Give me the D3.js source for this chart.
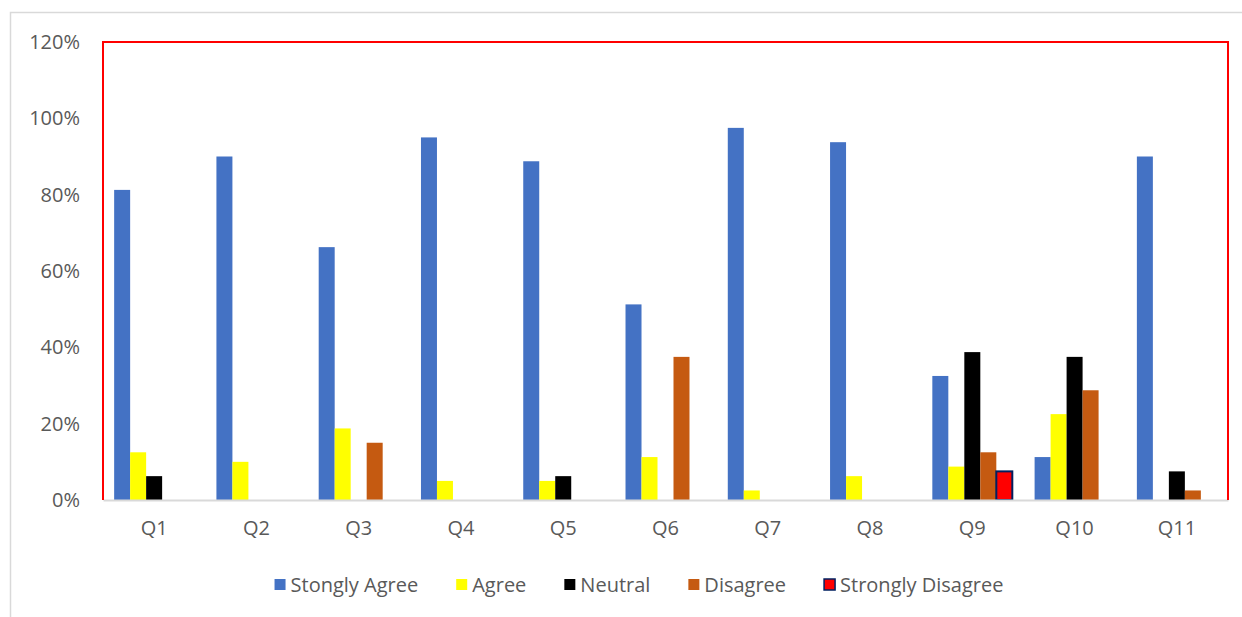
<!DOCTYPE html>
<html>
<head>
<meta charset="utf-8">
<script src="https://d3js.org/d3.v7.min.js"></script>
<style>
  body { margin: 0; background: #fff; }
  text { font-family: "Open Sans", sans-serif; fill: #595959; }
</style>
</head>
<body>
<div id="myChart"></div>
<script>
// data (percent)
let categories = ["Q1", "Q2", "Q3", "Q4", "Q5", "Q6", "Q7", "Q8", "Q9", "Q10", "Q11"];
let seriesNames = ["Stongly Agree", "Agree", "Neutral", "Disagree", "Strongly Disagree"];
let stronglyAgree    = [81.25, 90, 66.25, 95, 88.75, 51.25, 97.5, 93.75, 32.5, 11.25, 90];
let agree            = [12.5, 10, 18.75, 5, 5, 11.25, 2.5, 6.25, 8.75, 22.5, 0];
let neutral          = [6.25, 0, 0, 0, 6.25, 0, 0, 0, 38.75, 37.5, 7.5];
let disagree         = [0, 0, 15, 0, 0, 37.5, 0, 0, 12.5, 28.75, 2.5];
let stronglyDisagree = [0, 0, 0, 0, 0, 0, 0, 0, 7.5, 0, 0];
let yTicks = [0, 20, 40, 60, 80, 100, 120];

let seriesValues = [stronglyAgree, agree, neutral, disagree, stronglyDisagree];
let colors = ["#4472C4", "#FFFF00", "#000000", "#C55A11", "#FF0000"];

// set the dimensions and margins of the graph
let W = 1242, H = 617;
let margin = {top: 42, right: 14, bottom: 117, left: 103},
    width = W - margin.left - margin.right,
    height = H - margin.top - margin.bottom;

let root = d3.select("#myChart")
    .append("svg")
        .attr("width", W)
        .attr("height", H);

// outer chart border
root.append("rect")
    .attr("x", 10.5).attr("y", 12.5)
    .attr("width", W + 20).attr("height", H + 20)
    .attr("fill", "none")
    .attr("stroke", "#D9D9D9")
    .attr("stroke-width", 1.5);

let svg = root.append("g")
    .attr("transform", "translate(" + margin.left + "," + margin.top + ")");

// X scales
let x0 = d3.scaleBand()
    .domain(categories)
    .range([0, width]);

let pad = x0.bandwidth() * 0.109;
let x1 = d3.scaleBand()
    .domain(d3.range(seriesNames.length))
    .range([pad, x0.bandwidth() - pad]);

// Y scale
let y = d3.scaleLinear()
    .domain([0, 120])
    .range([height, 0]);

// Y axis labels only
let yAxis = svg.append("g")
    .call(d3.axisLeft(y).tickValues(yTicks).tickFormat(d => d + "%").tickSize(0).tickPadding(23));
yAxis.select(".domain").remove();
yAxis.selectAll("text")
    .style("font-family", "Open Sans, sans-serif")
    .style("font-size", "20px")
    .attr("fill", "#595959");

// bars
let groups = svg.append("g")
    .selectAll("g")
    .data(categories)
    .enter()
    .append("g")
        .attr("transform", d => "translate(" + x0(d) + ",0)");

groups.selectAll("rect")
    .data((d, i) => seriesValues.map((vals, s) => ({s: s, v: vals[i]})))
    .enter()
    .filter(d => d.v > 0)
    .append("rect")
        .attr("x", d => x1(d.s))
        .attr("y", d => y(d.v))
        .attr("width", x1.bandwidth())
        .attr("height", d => height - y(d.v))
        .attr("fill", d => colors[d.s])
        .attr("stroke", d => d.s === 4 ? "#002060" : "none")
        .attr("stroke-width", 2);

// x axis line
let xAxis = svg.append("g")
    .attr("transform", "translate(0," + height + ")")
    .call(d3.axisBottom(x0).tickSize(0).tickPadding(21));
xAxis.select(".domain")
    .attr("stroke", "#D9D9D9")
    .attr("stroke-width", 2);
xAxis.selectAll("text")
    .style("font-family", "Open Sans, sans-serif")
    .style("font-size", "20px")
    .attr("fill", "#595959");

// red plot border (left, top, right)
svg.append("path")
    .attr("d", "M0," + height + "V0H" + width + "V" + height)
    .attr("fill", "none")
    .attr("stroke", "#FF0000")
    .attr("stroke-width", 2);

// legend
let legend = root.append("g");
let items = legend.selectAll("g")
    .data(seriesNames)
    .enter()
    .append("g");
items.append("rect")
    .attr("width", 11).attr("height", 11)
    .attr("y", -6)
    .attr("fill", (d, i) => colors[i])
    .attr("stroke", (d, i) => i === 4 ? "#002060" : "none")
    .attr("stroke-width", 1.5);
items.append("text")
    .attr("x", 16)
    .attr("dy", "0.35em")
    .style("font-size", "20px")
    .text(d => d);

let offsets = [], cx = 0;
items.each(function(d, i) {
    let w = 16 + this.querySelector("text").getComputedTextLength();
    offsets.push(cx);
    cx += w + 38;
});
let total = cx - 38;
let startX = 639 - total / 2;
items.attr("transform", (d, i) => "translate(" + (startX + offsets[i]) + ",585)");
</script>
</body>
</html>
